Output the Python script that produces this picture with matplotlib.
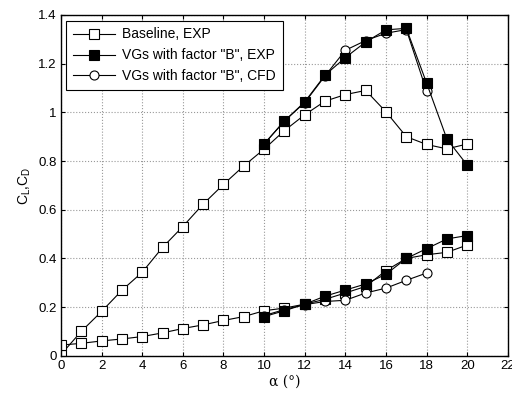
import matplotlib
matplotlib.use("Agg")
import matplotlib.pyplot as plt
import numpy as np

plt.rcParams['font.family'] = ['Liberation Sans', 'DejaVu Sans']
plt.rcParams['mathtext.fontset'] = 'custom'
plt.rcParams['mathtext.rm'] = 'Liberation Sans'
plt.rcParams['mathtext.it'] = 'Liberation Sans'

alpha_base = list(range(0, 21))
cl_base = [0.005, 0.10, 0.182, 0.269, 0.343, 0.445, 0.531, 0.623, 0.704, 0.78, 0.849,
           0.925, 0.99, 1.046, 1.073, 1.09, 1.002, 0.90, 0.868, 0.85, 0.87]
cd_base = [0.044, 0.051, 0.061, 0.069, 0.079, 0.094, 0.112, 0.127, 0.145, 0.161, 0.185,
           0.196, 0.212, 0.232, 0.258, 0.285, 0.35, 0.40, 0.415, 0.425, 0.455]

alpha_vg = list(range(10, 21))
cl_vg = [0.87, 0.964, 1.043, 1.153, 1.225, 1.289, 1.339, 1.345, 1.12, 0.89, 0.783]
cd_vg = [0.161, 0.185, 0.212, 0.245, 0.27, 0.295, 0.335, 0.40, 0.44, 0.48, 0.494]

alpha_cfd = list(range(10, 19))
cl_cfd = [0.87, 0.965, 1.04, 1.15, 1.255, 1.295, 1.325, 1.34, 1.087]
cd_cfd = [0.165, 0.19, 0.21, 0.223, 0.228, 0.258, 0.278, 0.31, 0.34]

fig = plt.figure(figsize=(5.12, 3.94), dpi=100)
ax = fig.add_axes([0.119, 0.097, 0.873, 0.865])

lw = 0.8
ms = 6.5
kw_base = dict(color='black', lw=lw, marker='s', ms=ms, mfc='white', mec='black', mew=0.8)
kw_vg = dict(color='black', lw=lw, marker='s', ms=ms, mfc='black', mec='black', mew=0.8)
kw_cfd = dict(color='black', lw=lw, marker='o', ms=ms, mfc='white', mec='black', mew=0.8)

ax.plot(alpha_base, cl_base, label='Baseline, EXP', **kw_base)
ax.plot(alpha_base, cd_base, **kw_base)
ax.plot(alpha_cfd, cl_cfd, **kw_cfd)
ax.plot(alpha_cfd, cd_cfd, **kw_cfd)
ax.plot(alpha_vg, cl_vg, label='VGs with factor "B", EXP', **kw_vg)
ax.plot(alpha_vg, cd_vg, **kw_vg)
ax.plot([], [], label='VGs with factor "B", CFD', **kw_cfd)

ax.set_xlim(0, 22)
ax.set_ylim(0, 1.4)
xt = list(range(0, 23, 2))
yt = [0, 0.2, 0.4, 0.6, 0.8, 1.0, 1.2, 1.4]
ax.set_xticks(xt)
ax.set_xticklabels([str(v) for v in xt])
ax.set_yticks(yt)
ax.set_yticklabels(['0', '0.2', '0.4', '0.6', '0.8', '1', '1.2', '1.4'])
ax.tick_params(direction='in', top=True, right=True, labelsize=9.5, length=3, width=0.8, pad=3)
ax.grid(True, color='#999999', linestyle=':', linewidth=0.8)
for s in ax.spines.values():
    s.set_linewidth(1.0)

ax.set_xlabel('α (°)', fontsize=10, family=['DejaVu Serif'], labelpad=2)
ax.set_ylabel('C$_L$,C$_D$', fontsize=10, labelpad=4)

leg = ax.legend(loc='upper left', fontsize=10, frameon=True, fancybox=False,
                edgecolor='black', framealpha=1, handlelength=3.0, borderpad=0.5,
                labelspacing=0.5, handletextpad=0.5, borderaxespad=0.4)
leg.get_frame().set_linewidth(0.8)

fig.savefig('out.png', dpi=100)
